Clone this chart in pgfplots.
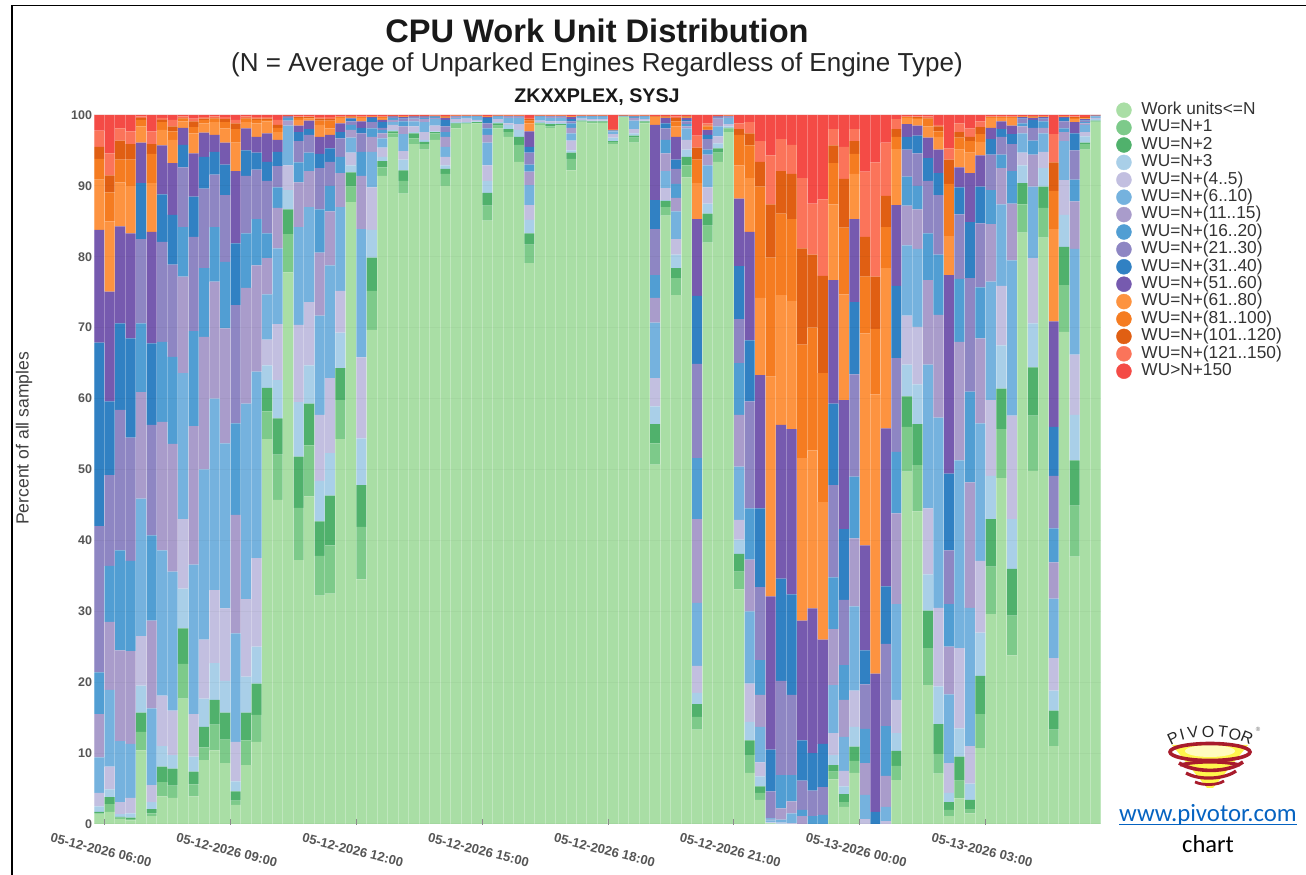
\documentclass[border=0pt]{standalone}
\usepackage{fontspec}
\usepackage{pgfplots}
\usepackage{pgfplotstable}
\pgfplotsset{compat=1.18}
\setmainfont{Liberation Sans}
\newfontfamily\carlito{Carlito}
\definecolor{s0}{HTML}{A9DEA5}
\definecolor{s1}{HTML}{7DCA8A}
\definecolor{s2}{HTML}{50B16C}
\definecolor{s3}{HTML}{A9CFE8}
\definecolor{s4}{HTML}{C2BFE0}
\definecolor{s5}{HTML}{75B2DE}
\definecolor{s6}{HTML}{A99CCB}
\definecolor{s7}{HTML}{519ED3}
\definecolor{s8}{HTML}{8E86C3}
\definecolor{s9}{HTML}{3181C3}
\definecolor{s10}{HTML}{765AAF}
\definecolor{s11}{HTML}{FD9340}
\definecolor{s12}{HTML}{F57C21}
\definecolor{s13}{HTML}{E05F13}
\definecolor{s14}{HTML}{FB745A}
\definecolor{s15}{HTML}{F44B46}
\definecolor{tickgrey}{HTML}{555555}
\definecolor{logored}{HTML}{A81C2C}
\definecolor{urlblue}{HTML}{0563C1}
% each column cN is the top edge of series N in the stack of that bar (percent)
\pgfplotstableread{
x c0 c1 c2 c3 c4 c5 c6 c7 c8 c9 c10 c11 c12 c13 c14 c15
0 1.4 1.5 1.7 2.5 4.4 9.4 15.5 21.4 42 67.9 83.8 90.9 93.8 95.5 97.8 100
1 1.7 2.8 3.8 4.9 8.1 18.9 28.5 36.4 49.2 59.6 75.1 85 89.1 91.5 94.6 100
2 .7 .9 1.0 1.4 3.1 11.7 24.5 38.6 58.4 70.6 84.3 90.5 93.7 96.4 98.1 100
3 .5 .7 .9 1.5 3.7 11.3 24.4 37.1 54.5 68.5 83.3 90 93.7 95.9 97.7 100
4 10.4 13 15.7 19.5 26.5 45.9 60.9 70.6 82.5 90.4 96.1 98.4 99.3 99.6 99.8 100
5 1.1 1.5 2.1 3.1 5.5 16.3 28.7 40.7 56.3 67.8 83.5 90.4 94.5 95.9 97.7 100
6 3.9 5.9 8.1 11 18.1 38.6 56.7 68 82.1 88.8 95.7 97.9 99 99.3 99.6 100
7 3.7 5.4 7.8 9.7 16 35.6 53.6 65.9 78.9 85.9 93.2 96.5 97.7 98.4 99.3 100
8 17.7 22.6 27.6 33.2 43 63.6 77.2 84.2 92.6 95.8 98.2 99.1 99.5 99.6 99.8 100
9 3.9 5.6 7.4 9.5 15.5 36.6 56.1 69.5 82.8 88.5 94.6 97.4 98.3 99.1 99.5 100
10 9 10.8 13.7 17.7 26 50 68.7 78.4 89.6 94.1 97.5 98.8 99.3 99.5 99.7 100
11 10.4 14 17.5 22.7 33 60 76.5 84.2 91.6 94.8 97.2 99 99.5 99.6 99.8 100
12 8.6 11.9 15.7 20.2 30.4 53.7 69.9 79.3 88.7 93 96.1 98.1 99 99.4 99.7 100
13 2.7 3.3 4.6 6 11.6 26.9 43.6 56.5 73.2 81.9 92.1 96.1 98 98.8 99.3 100
14 8.3 11.8 15.7 20.8 31.7 59.3 75.6 83.3 91.4 95 98.1 99 99.5 99.6 99.8 100
15 11.6 15.4 19.8 25 37.5 63.8 78.8 85.3 92.3 94.7 96.9 98.8 99.3 99.5 99.7 100
16 54.3 58.2 61.5 64.7 68.3 74.7 79.8 83.3 90.7 93.4 97.4 99.1 99.3 99.5 99.7 100
17 45.7 52.1 57.2 62.6 70.5 81.2 86.9 89.8 92.8 94.8 96.5 97.6 98.2 98.6 99.3 100
18 77.8 83.2 86.7 89.4 92.9 98.5 99.2 99.6 99.7 99.75 99.8 99.82 99.84 99.86 99.88 100
19 37.2 44.6 51.8 59.5 70.4 84.2 90.5 93.3 96.3 97.6 98.5 99.3 99.6 99.7 99.8 100
20 46.2 53.4 59.3 64.7 73.6 87 92.1 94.7 97.2 98 99.2 99.5 99.6 99.7 99.8 100
21 32.2 37.8 42.7 48.4 57.7 71.7 80.6 86.7 92.5 94.5 96.9 98.6 99.2 99.5 99.7 100
22 32.5 39.3 46.3 52.3 62.9 78.8 86.4 90 93.4 95.3 97.2 98.1 99.2 99.4 99.7 100
23 54.3 59.8 64.3 69.3 75.2 87 91.8 94.1 96.7 97.6 98.8 99.6 99.7 99.75 99.8 100
24 87.7 89.9 91.9 92.9 94.7 96.8 97.9 98.6 99.1 99.5 99.6 99.7 99.75 99.8 99.85 100
25 34.5 41.9 47.8 54.4 65.8 83.9 91.4 94.8 97.4 98.2 99.1 99.6 99.7 99.75 99.8 100
26 69.7 75.2 79.9 83.8 89.8 94.8 96.9 98.1 99 99.6 99.7 99.75 99.8 99.82 99.85 100
27 91.4 92.6 93.5 94.1 95.4 96.7 97.4 97.9 98.2 99 99.3 99.6 99.7 99.75 99.8 100
28 96.8 97.4 97.7 97.9 98.6 99 99.3 99.6 99.7 99.75 99.8 99.82 99.84 99.86 99.88 100
29 88.9 90.7 92.2 93.7 94.9 97.3 98.4 99.1 99.5 99.6 99.7 99.75 99.8 99.82 99.85 100
30 95.9 96.7 97.4 97.6 98.4 99.1 99.5 99.6 99.7 99.75 99.8 99.82 99.84 99.86 99.88 100
31 95.1 95.9 96.2 96.5 97.6 99 99.4 99.6 99.7 99.75 99.8 99.82 99.84 99.86 99.88 100
32 96.5 97.4 97.6 97.7 98.5 99.4 99.6 99.7 99.75 99.8 99.82 99.84 99.86 99.88 99.9 100
33 90 91.7 92.4 92.9 94.1 95.5 96.9 97.6 98.4 99.3 99.6 99.7 99.75 99.8 99.85 100
34 98.1 98.7 98.8 99 99.4 99.6 99.7 99.75 99.8 99.82 99.84 99.86 99.88 99.9 99.92 100
35 98.7 98.8 98.9 99 99.5 99.7 99.75 99.8 99.82 99.84 99.86 99.88 99.9 99.91 99.92 100
36 98.8 98.9 99 99.1 99.3 99.7 99.75 99.8 99.82 99.84 99.86 99.88 99.9 99.91 99.92 100
37 85.1 87.2 89 90.7 92.9 96.1 97.2 98.1 98.8 99.6 99.7 99.75 99.8 99.82 99.85 100
38 98.1 98.5 98.8 99 99.4 99.7 99.75 99.8 99.82 99.84 99.86 99.88 99.9 99.91 99.92 100
39 96.9 97.6 98 98.6 98.8 99.6 99.7 99.75 99.8 99.82 99.84 99.86 99.88 99.9 99.92 100
40 93.4 95.8 96.9 97.9 98.7 99.6 99.7 99.75 99.8 99.82 99.84 99.86 99.88 99.9 99.92 100
41 79.1 81.7 83.3 85.2 87.3 90.1 92 93 94.7 95.5 97.7 98.8 99.2 99.4 99.6 100
42 98.6 98.8 98.9 99 99.2 99.7 99.75 99.8 99.82 99.84 99.86 99.88 99.9 99.91 99.92 100
43 98.2 98.4 98.7 98.9 99.1 99.6 99.7 99.75 99.8 99.82 99.84 99.86 99.88 99.9 99.92 100
44 98.5 98.6 98.7 98.9 99.1 99.6 99.7 99.75 99.8 99.82 99.84 99.86 99.88 99.9 99.92 100
45 92.2 93.8 94.7 95 96.4 97.4 98.2 98.8 99.1 99.4 99.7 99.75 99.8 99.82 99.85 100
46 99 99.1 99.2 99.3 99.5 99.7 99.75 99.8 99.82 99.84 99.86 99.88 99.9 99.91 99.92 100
47 98.8 99 99.1 99.2 99.4 99.7 99.75 99.8 99.82 99.84 99.86 99.88 99.9 99.91 99.92 100
48 98.9 99 99.1 99.2 99.4 99.7 99.75 99.8 99.82 99.84 99.86 99.88 99.9 99.91 99.92 100
49 95.9 96.2 96.3 96.8 97.3 97.7 97.75 97.78 97.8 97.82 97.84 97.86 97.88 97.9 98 100
50 99.7 99.72 99.74 99.76 99.78 99.8 99.82 99.84 99.85 99.86 99.87 99.88 99.89 99.9 99.92 100
51 96.1 96.8 97.1 97.4 98 99.2 99.6 99.7 99.75 99.8 99.82 99.84 99.86 99.88 99.9 100
52 98.8 99 99.1 99.2 99.4 99.7 99.75 99.8 99.82 99.84 99.86 99.88 99.9 99.91 99.92 100
53 50.7 53.7 56.4 58.9 62.9 70.7 74.2 77.4 83.9 88 98.6 99.7 99.75 99.8 99.85 100
54 85.8 87 87.9 88 89.7 92.1 94.6 96.5 98.1 98.8 99.6 99.7 99.75 99.8 99.85 100
55 74.6 77 78.4 80.3 82.5 86.4 88.3 90.3 92.4 93.7 96.9 98.4 99.1 99.6 99.8 100
56 91.2 92.9 94.1 95.1 96.5 98.1 98.4 98.7 99.1 99.3 99.6 99.7 99.75 99.8 99.85 100
57 13.3 15.1 16.9 18.5 22.3 31.2 43 51.6 64.9 74.5 85.3 90.4 93.7 95.4 97.1 100
58 82 84.4 86.1 87.5 89.8 92.9 94.4 95.1 96.6 97.2 97.9 98 98.4 98.5 98.8 100
59 93.4 94.7 95.3 96 97 98.4 99.5 99.6 99.7 99.75 99.8 99.82 99.84 99.86 99.88 100
60 97.6 98.1 98.2 98.4 98.7 99.6 99.7 99.75 99.8 99.82 99.84 99.86 99.88 99.9 99.92 100
61 33.1 35.6 38.1 40.1 42.9 50.4 57.7 65 71.2 78.7 88.2 92.9 97.2 98 98.8 100
62 7.2 9.7 11.8 14.4 19.8 30 37.3 44.5 59.6 68.2 83.5 91.1 95.7 97.4 99 100
63 3.4 4.4 5.3 6.7 8.7 13.7 18.2 23.1 33.4 44.5 63.3 74.2 89.9 93.4 96.3 100
64 .1 .1 .1 .2 .3 .5 .6 .8 4.6 10.5 32.1 63.1 79.9 87.4 94.3 100
65 0 0 0 .1 .2 .6 2.2 6.9 20.2 34.6 56.3 74.6 86.1 92.1 96.6 100
66 0 0 0 0 .1 1.5 3.2 6.9 18.2 32.4 55.7 73.8 85.3 91.7 95.8 100
67 0 0 0 0 0 0 1.1 2 6.1 11.8 28.7 51.6 67.6 81.2 91.1 100
68 0 0 0 0 0 0 0 1.1 4.7 10 30.4 52.7 70 80.3 87.5 100
69 0 0 0 0 0 0 0 1.3 5.2 11.3 26 45.4 63.6 77.3 88.1 100
70 6.3 7.4 8.3 9.7 12.8 19.6 27.5 34.8 47.8 59.3 76.7 87.4 93.2 95.7 98 100
71 2.4 3.1 4.2 5.3 7.5 12.3 17.5 22.4 31.6 41.6 59.8 74.7 84.1 91 95.5 100
72 7.2 8.9 10.9 13.7 18.8 30.7 40.3 49 63.4 73.6 85.3 91.7 94.5 96.3 98 100
73 0 0 0 0 .7 4.1 8.6 13.4 19.7 24.5 39.3 69.2 77.2 82.8 92 100
74 0 0 0 0 0 0 0 0 0 1.7 21.2 60.6 69.8 77.2 93.3 100
75 0 0 0 0 .4 2.4 6.8 13.8 25.4 33.5 55.8 78.4 84.2 88.6 96.1 100
76 6.2 8.2 10.3 12.8 17.5 31 43.8 52.5 65.7 75.9 87.3 95.2 96.9 98 99.4 100
77 49.7 56 60.3 64.8 71.7 81.6 87.2 91.3 95.1 96.9 98.7 99.6 99.7 99.75 99.8 100
78 44.1 50.6 56.4 62 70.1 81.1 86.7 90 94.6 97.1 98.5 99.4 99.6 99.7 99.8 100
79 19.6 24.8 30.1 35.2 44.5 64.8 76.7 83.3 90.7 93.9 96.8 98.4 99.5 99.6 99.8 100
80 7.1 9.9 14.1 19.4 30.5 57.3 71.8 80.3 88.7 91.8 95.1 96.9 97.7 98.4 98.6 100
81 1.1 2 3.1 4.4 8.6 18.3 25 31 38.6 49.4 77.4 82.9 90.3 93.7 95.3 100
82 3.6 6.1 9.5 13.5 24.8 51.3 68 76.9 86 89.8 92.6 95.1 96.8 97.6 98.8 100
83 1.5 2.1 3.4 5.7 11 30.5 48.2 61 77 84.9 91.8 94.7 96.3 96.9 98.1 100
84 10.7 15.5 20.9 27 37.1 56.5 68.5 75.7 84.7 89.9 94.3 96.2 97.3 98.3 99.1 100
85 29.6 36.3 43 49.1 59.8 76.5 84.6 89.4 94.4 96.6 98.2 99.6 99.7 99.75 99.8 100
86 48.8 55.7 61.4 67.5 75.9 87.4 92.5 94.4 96.9 98 99.1 99.6 99.7 99.75 99.8 100
87 23.8 29.4 36 43 57.6 79.5 87.5 92.1 95.9 97.3 98.5 99.6 99.7 99.75 99.8 100
88 83.4 87.4 90.4 92.9 94.7 97.4 98.4 98.8 99.5 99.6 99.7 99.75 99.8 99.82 99.85 100
89 49.8 57.6 64.4 70.6 79.8 89.9 94.4 96.4 98.2 99.3 99.6 99.7 99.75 99.8 99.85 100
90 82.7 86.9 89.9 92.5 94.8 97.4 98.2 99.1 99.5 99.6 99.7 99.75 99.8 99.82 99.85 100
91 11 13.3 16 18.8 23.4 31.8 36.9 41.7 49.1 56 70.9 83.9 89.3 93.3 97.3 100
92 69.4 76 81.4 85.9 90.8 96.3 97.6 98.1 99.1 99.6 99.7 99.75 99.8 99.82 99.85 100
93 37.7 44.9 51.3 57.7 66.2 81.1 87.8 90.9 95 97.4 99 99.4 99.6 99.7 99.8 100
94 95.1 95.9 96.1 97 97.6 98.6 98.8 99 99.2 99.3 99.4 99.5 99.6 99.7 99.75 100
95 99 99.1 99.2 99.4 99.6 99.8 99.82 99.84 99.86 99.88 99.9 99.91 99.92 99.93 99.94 100
}\datatable
\pgfplotsset{
  barstyle/.style={draw=none, forget plot, fill=#1},
  lege/.style={only marks, mark=*, mark size=7.5pt, mark options={draw=#1, fill=#1}},
}
\begin{document}
\begin{tikzpicture}[x=1pt,y=1pt]
\useasboundingbox (0,0) rectangle (1306,875);
\draw[black, line width=1.6pt] (12,-2) -- (12,869.5) -- (1308,869.5);
\node[font=\bfseries\fontsize{32.6}{36}\selectfont, text=black!90] at (597,844) {CPU Work Unit Distribution};
\node[font=\fontsize{26}{30}\selectfont, text=black!85] at (597,810) {(N = Average of Unparked Engines Regardless of Engine Type)};
\node[font=\bfseries\fontsize{19.7}{22}\selectfont, text=black!90] at (597,778) {ZKXXPLEX, SYSJ};
\begin{axis}[
  at={(94pt,51pt)}, anchor=south west,
  scale only axis, width=1007pt, height=709pt,
  ybar stacked, bar width=10.49pt,
  xmin=-0.5, xmax=95.5, ymin=0, ymax=100,
  axis line style={draw=none},
  axis on top,
  ytick={0,10,...,100},
  xtick={0.5,12.5,24.5,36.5,48.5,60.5,72.5,84.5},
  xticklabels={05-12-2026 06:00,05-12-2026 09:00,05-12-2026 12:00,05-12-2026 15:00,05-12-2026 18:00,05-12-2026 21:00,05-13-2026 00:00,05-13-2026 03:00},
  minor xtick={-0.5,0.5,...,95.5},
  xminorgrids, minor grid style={draw=white, opacity=0.28, line width=1pt},
  minor tick length=0pt,
  xtick pos=bottom, ytick pos=left,
  major tick length=6pt,
  xtick style={draw=black!45, line width=0.8pt, yshift=-1pt},
  ytick style={draw=none},
  ymajorgrids, major grid style={draw=black, opacity=0.03, line width=1pt},
  /pgf/number format/assume math mode=true,
  xticklabel style={font=\bfseries\fontsize{13}{15}\selectfont, text=tickgrey, rotate=-14, anchor=north, xshift=3pt, yshift=-18pt},
  yticklabel style={font=\bfseries\fontsize{12.5}{15}\selectfont, text=tickgrey, xshift=1.5pt},
  ylabel={Percent of all samples},
  every axis y label/.style={at={(axis description cs:-0.0695,0.544)}, rotate=90, anchor=center, font=\fontsize{17.6}{20}\selectfont, text=black!75},
  legend cell align=left,
  legend style={at={(rel axis cs:1,1)}, anchor=north west, xshift=15pt, yshift=13.5pt, draw=none, fill=none, inner sep=0pt, outer sep=0pt,
    font=\fontsize{17.3}{17.4}\selectfont, text=black!80, row sep=0pt,
    nodes={inner sep=0pt, text height=13pt, text depth=4.4pt}},
  legend image code/.code={\draw[#1] plot coordinates {(8pt,0pt)}; \path[draw=none] (0pt,0pt) -- (25.5pt,0pt);},
]
\addplot[barstyle=s0] table[x=x,y=c0] {\datatable};
\addplot[barstyle=s1] table[x=x,y expr=\thisrow{c1}-\thisrow{c0}] {\datatable};
\addplot[barstyle=s2] table[x=x,y expr=\thisrow{c2}-\thisrow{c1}] {\datatable};
\addplot[barstyle=s3] table[x=x,y expr=\thisrow{c3}-\thisrow{c2}] {\datatable};
\addplot[barstyle=s4] table[x=x,y expr=\thisrow{c4}-\thisrow{c3}] {\datatable};
\addplot[barstyle=s5] table[x=x,y expr=\thisrow{c5}-\thisrow{c4}] {\datatable};
\addplot[barstyle=s6] table[x=x,y expr=\thisrow{c6}-\thisrow{c5}] {\datatable};
\addplot[barstyle=s7] table[x=x,y expr=\thisrow{c7}-\thisrow{c6}] {\datatable};
\addplot[barstyle=s8] table[x=x,y expr=\thisrow{c8}-\thisrow{c7}] {\datatable};
\addplot[barstyle=s9] table[x=x,y expr=\thisrow{c9}-\thisrow{c8}] {\datatable};
\addplot[barstyle=s10] table[x=x,y expr=\thisrow{c10}-\thisrow{c9}] {\datatable};
\addplot[barstyle=s11] table[x=x,y expr=\thisrow{c11}-\thisrow{c10}] {\datatable};
\addplot[barstyle=s12] table[x=x,y expr=\thisrow{c12}-\thisrow{c11}] {\datatable};
\addplot[barstyle=s13] table[x=x,y expr=\thisrow{c13}-\thisrow{c12}] {\datatable};
\addplot[barstyle=s14] table[x=x,y expr=\thisrow{c14}-\thisrow{c13}] {\datatable};
\addplot[barstyle=s15] table[x=x,y expr=\thisrow{c15}-\thisrow{c14}] {\datatable};
\addlegendimage{lege=s0}\addlegendentry{Work units<=N}
\addlegendimage{lege=s1}\addlegendentry{WU=N+1}
\addlegendimage{lege=s2}\addlegendentry{WU=N+2}
\addlegendimage{lege=s3}\addlegendentry{WU=N+3}
\addlegendimage{lege=s4}\addlegendentry{WU=N+(4..5)}
\addlegendimage{lege=s5}\addlegendentry{WU=N+(6..10)}
\addlegendimage{lege=s6}\addlegendentry{WU=N+(11..15)}
\addlegendimage{lege=s7}\addlegendentry{WU=N+(16..20)}
\addlegendimage{lege=s8}\addlegendentry{WU=N+(21..30)}
\addlegendimage{lege=s9}\addlegendentry{WU=N+(31..40)}
\addlegendimage{lege=s10}\addlegendentry{WU=N+(51..60)}
\addlegendimage{lege=s11}\addlegendentry{WU=N+(61..80)}
\addlegendimage{lege=s12}\addlegendentry{WU=N+(81..100)}
\addlegendimage{lege=s13}\addlegendentry{WU=N+(101..120)}
\addlegendimage{lege=s14}\addlegendentry{WU=N+(121..150)}
\addlegendimage{lege=s15}\addlegendentry{WU>N+150}
\end{axis}
% logo
\begin{scope}
\fill[yellow!70!white] (1172,130) -- (1248,130) -- (1213,87) -- (1207,87) -- cycle;
\fill[yellow!25!white] (1210,124) ellipse (25 and 6);
\draw[logored, line width=3.6pt] (1210,123) ellipse (40 and 8.5);
\draw[logored, line width=3.6pt] (1179,112) .. controls (1195,102) and (1228,102) .. (1243,113);
\draw[logored, line width=3.2pt] (1180,110) .. controls (1195,114) and (1225,114) .. (1240,110);
\draw[logored, line width=3.2pt] (1186,102) .. controls (1200,94) and (1225,96) .. (1236,104);
\draw[logored, line width=2.8pt] (1195,93) .. controls (1204,89) and (1218,90) .. (1224,94);
\foreach \ch/\px/\py/\r in {P/1173/137/25,I/1182/140/15,V/1193/143/8,O/1208/143/0,T/1223/143/-7,O/1235/140/-14,R/1247/137/-22}
  \node[font=\fontsize{16}{17}\selectfont, text=black!85, rotate=\r, inner sep=0pt] at (\px,\py) {\ch};
\node[font=\fontsize{6}{7}\selectfont, text=black!60, inner sep=0pt] at (1258,146) {®};
\end{scope}
\node[font=\carlito\fontsize{24.8}{28}\selectfont, text=urlblue, inner sep=0pt] (w) at (1208,60) {www.pivotor.com};
\draw[urlblue, line width=0.9pt] ([yshift=1.5pt]w.south west) -- ([yshift=1.5pt]w.south east);
\node[font=\carlito\fontsize{24.5}{28}\selectfont, text=black, inner sep=0pt] at (1208,31) {chart};
\end{tikzpicture}
\end{document}
